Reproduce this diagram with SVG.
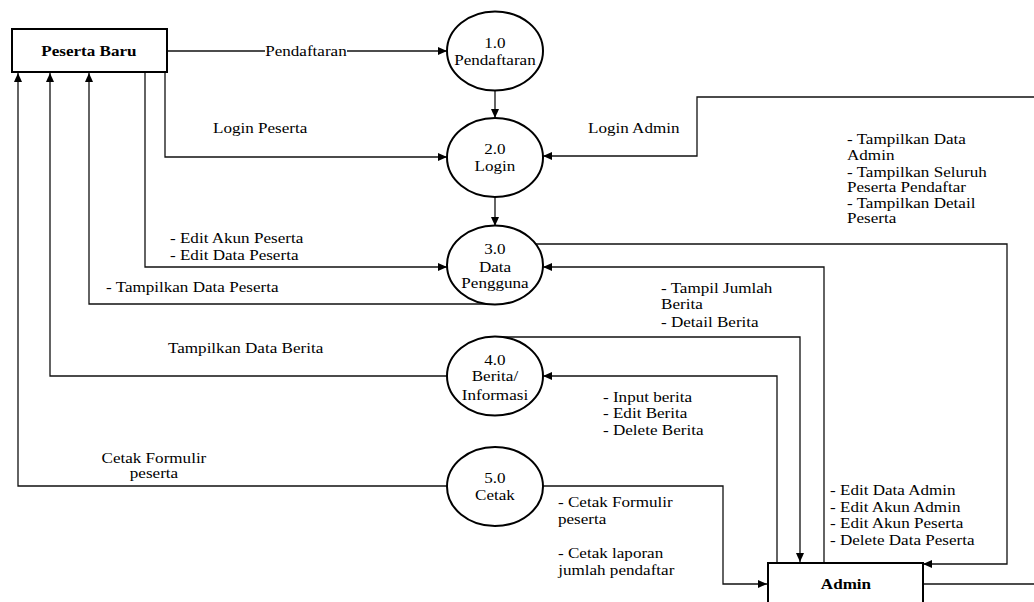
<svg xmlns="http://www.w3.org/2000/svg" width="1034" height="602" viewBox="0 0 1034 602">
<defs>
<marker id="arr" markerUnits="userSpaceOnUse" markerWidth="10" markerHeight="8" refX="9" refY="4" orient="auto">
<path d="M0,0 L9,4 L0,8 Z" fill="#000"/>
</marker>
<style>
.t{font-family:"Liberation Serif","Times New Roman",serif;font-size:14px;fill:#000;transform-box:fill-box;transform-origin:left center;transform:scaleX(1.22)}
.c{text-anchor:middle;transform-origin:center}
.b{font-weight:bold}
.ln{fill:none;stroke:#111;stroke-width:1.3}
.node{fill:#fff;stroke:#000;stroke-width:2}
</style>
</defs>
<rect width="1034" height="602" fill="#fff"/>
<g id="connectors">
<path class="ln" d="M167,51 H265"/>
<path class="ln" d="M347,51 H447" marker-end="url(#arr)"/>
<path class="ln" d="M495,91 V118" marker-end="url(#arr)"/>
<path class="ln" d="M165,72 V157 H447" marker-end="url(#arr)"/>
<path class="ln" d="M1034,97 H697 V156 H543" marker-end="url(#arr)"/>
<path class="ln" d="M495,197 V226" marker-end="url(#arr)"/>
<path class="ln" d="M145,72 V267 H447" marker-end="url(#arr)"/>
<path class="ln" d="M490,304 H89 V73" marker-end="url(#arr)"/>
<path class="ln" d="M447,376 H50 V73" marker-end="url(#arr)"/>
<path class="ln" d="M447,486 H18 V73" marker-end="url(#arr)"/>
<path class="ln" d="M535,244 H1007 V564 H923" marker-end="url(#arr)"/>
<path class="ln" d="M824,563 V267 H543" marker-end="url(#arr)"/>
<path class="ln" d="M500,337 H800 V562" marker-end="url(#arr)"/>
<path class="ln" d="M777,563 V376 H543" marker-end="url(#arr)"/>
<path class="ln" d="M543,486 H723 V584 H767" marker-end="url(#arr)"/>
<path class="ln" d="M923,584 H1034"/>
<text class="t c" x="306" y="56">Pendaftaran</text>
<text class="t" x="213" y="133">Login Peserta</text>
<text class="t" x="588" y="133">Login Admin</text>
<text class="t" x="847" y="144">- Tampilkan Data</text>
<text class="t" x="847" y="160">Admin</text>
<text class="t" x="847" y="177">- Tampilkan Seluruh</text>
<text class="t" x="847" y="192">Peserta Pendaftar</text>
<text class="t" x="847" y="208">- Tampilkan Detail</text>
<text class="t" x="847" y="223">Peserta</text>
<text class="t" x="170" y="243">- Edit Akun Peserta</text>
<text class="t" x="170" y="260">- Edit Data Peserta</text>
<text class="t" x="106" y="292">- Tampilkan Data Peserta</text>
<text class="t" x="661" y="293">- Tampil Jumlah</text>
<text class="t" x="661" y="309">Berita</text>
<text class="t" x="661" y="327">- Detail Berita</text>
<text class="t" x="168" y="353">Tampilkan Data Berita</text>
<text class="t" x="603" y="402">- Input berita</text>
<text class="t" x="603" y="418">- Edit Berita</text>
<text class="t" x="603" y="435">- Delete Berita</text>
<text class="t c" x="154" y="463">Cetak Formulir</text>
<text class="t c" x="154" y="478">peserta</text>
<text class="t" x="558" y="507">- Cetak Formulir</text>
<text class="t" x="558" y="524">peserta</text>
<text class="t" x="558" y="558">- Cetak laporan</text>
<text class="t" x="558" y="575">jumlah pendaftar</text>
<text class="t" x="830" y="495">- Edit Data Admin</text>
<text class="t" x="830" y="512">- Edit Akun Admin</text>
<text class="t" x="830" y="528">- Edit Akun Peserta</text>
<text class="t" x="830" y="545">- Delete Data Peserta</text>
</g>
<g id="peserta-baru">
<rect class="node" x="12" y="29" width="155" height="43"/>
<text class="t c b" x="89" y="56">Peserta Baru</text>
</g>
<g id="p1">
<ellipse class="node" cx="495" cy="51" rx="48" ry="39.5"/>
<text class="t c" x="495" y="48">1.0</text>
<text class="t c" x="495" y="65">Pendaftaran</text>
</g>
<g id="p2">
<ellipse class="node" cx="495" cy="157.5" rx="48" ry="39.5"/>
<text class="t c" x="495" y="154">2.0</text>
<text class="t c" x="495" y="171">Login</text>
</g>
<g id="p3">
<ellipse class="node" cx="495" cy="265" rx="48" ry="39.5"/>
<text class="t c" x="495" y="254">3.0</text>
<text class="t c" x="495" y="272">Data</text>
<text class="t c" x="495" y="288">Pengguna</text>
</g>
<g id="p4">
<ellipse class="node" cx="495" cy="376" rx="48" ry="39.5"/>
<text class="t c" x="495" y="365">4.0</text>
<text class="t c" x="495" y="381">Berita/</text>
<text class="t c" x="495" y="400">Informasi</text>
</g>
<g id="p5">
<ellipse class="node" cx="495" cy="486.5" rx="48" ry="39.5"/>
<text class="t c" x="495" y="483">5.0</text>
<text class="t c" x="495" y="500">Cetak</text>
</g>
<g id="admin">
<rect class="node" x="768" y="563" width="155" height="45"/>
<text class="t c b" x="846" y="589">Admin</text>
</g>
</svg>
